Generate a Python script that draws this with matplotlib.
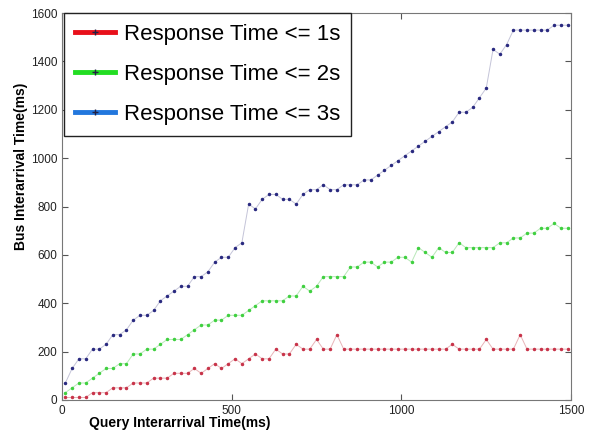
import matplotlib
matplotlib.use("Agg")
import matplotlib.pyplot as plt
from matplotlib.lines import Line2D
import numpy as np

plt.rcParams["font.family"] = ["Liberation Sans", "DejaVu Sans"]

# query interarrival time (ms), one point every 20 ms
query_ms = list(range(10, 1500, 20))

bus_1s = [
    10, 10, 10, 10, 30, 30, 30, 50, 50, 50,
    70, 70, 70, 90, 90, 90, 110, 110, 110, 130,
    110, 130, 150, 130, 150, 170, 150, 170, 190, 170,
    170, 210, 190, 190, 230, 210, 210, 250, 210, 210,
    270, 210, 210, 210, 210, 210, 210, 210, 210, 210,
    210, 210, 210, 210, 210, 210, 210, 230, 210, 210,
    210, 210, 250, 210, 210, 210, 210, 270, 210, 210,
    210, 210, 210, 210, 210,
]
bus_2s = [
    30, 50, 70, 70, 90, 110, 130, 130, 150, 150,
    190, 190, 210, 210, 230, 250, 250, 250, 270, 290,
    310, 310, 330, 330, 350, 350, 350, 370, 390, 410,
    410, 410, 410, 430, 430, 470, 450, 470, 510, 510,
    510, 510, 550, 550, 570, 570, 550, 570, 570, 590,
    590, 570, 630, 610, 590, 630, 610, 610, 650, 630,
    630, 630, 630, 630, 650, 650, 670, 670, 690, 690,
    710, 710, 730, 710, 710,
]
bus_3s = [
    70, 130, 170, 170, 210, 210, 230, 270, 270, 290,
    330, 350, 350, 370, 410, 430, 450, 470, 470, 510,
    510, 530, 570, 590, 590, 630, 650, 810, 790, 830,
    850, 850, 830, 830, 810, 850, 870, 870, 890, 870,
    870, 890, 890, 890, 910, 910, 930, 950, 970, 990,
    1010, 1030, 1050, 1070, 1090, 1110, 1130, 1150, 1190, 1190,
    1210, 1250, 1290, 1450, 1430, 1470, 1530, 1530, 1530, 1530,
    1530, 1530, 1550, 1550, 1550,
]
labels = ["Response Time <= 1s", "Response Time <= 2s", "Response Time <= 3s"]

fig = plt.figure(figsize=(5.9, 4.38), dpi=100)
ax = fig.add_axes([0.105, 0.087, 0.863, 0.883])

series = [
    (bus_1s, "#e8b4b8", "#c8344a", "#e8101a"),
    (bus_2s, "#b8e8b8", "#40d040", "#22dd22"),
    (bus_3s, "#c4c4d8", "#2a2a80", "#2277dd"),
]
handles = []
for values, line_c, mark_c, leg_c in series:
    ax.plot(query_ms, values, color=line_c, lw=0.7, marker=".", ms=3,
            mfc=mark_c, mec=mark_c)
    handles.append(Line2D([], [], color=leg_c, lw=3.5, marker="+", ms=4,
                          mec="#222244", mew=1))

ax.set_xlim(0, 1500)
ax.set_ylim(0, 1600)
ax.set_xticks([0, 500, 1000, 1500])
ax.set_yticks(np.arange(0, 1601, 200))
ax.tick_params(direction="in", length=4, top=True, right=True,
               labelsize=8.5, colors="#555555", labelcolor="#222222")
for s in ax.spines.values():
    s.set_color("#777777")

fig.text(0.305, 0.034, "Query Interarrival Time(ms)", ha="center", va="center",
         fontsize=10, fontweight="bold")
fig.text(0.035, 0.62, "Bus Interarrival Time(ms)", ha="center", va="center",
         rotation=90, fontsize=10, fontweight="bold")

leg = ax.legend(handles, labels, loc="upper left", bbox_to_anchor=(0.004, 1.0),
                borderaxespad=0, fontsize=16, handlelength=1.8,
                handletextpad=0.4, labelspacing=0.85, borderpad=0.5,
                fancybox=False, framealpha=1, edgecolor="#222222")
leg.get_frame().set_linewidth(1.0)

fig.savefig("out.png", dpi=100)
